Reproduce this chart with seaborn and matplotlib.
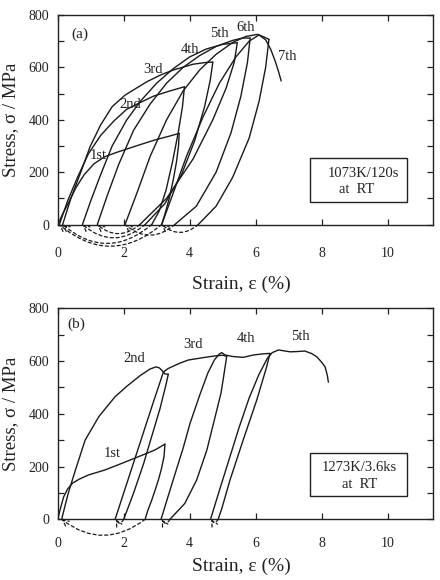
import numpy as np
import pandas as pd
import matplotlib
matplotlib.use("Agg")
import matplotlib.pyplot as plt
import seaborn as sns
from matplotlib.patches import Rectangle

# ---------------- data: panel (a) 1073K/120s ----------------
a_load1_e = [0.0, 0.15, 0.32, 0.55, 0.8, 1.1, 1.43, 1.8, 2.04, 2.5, 2.95, 3.4, 3.68]
a_load1_s = [0, 40, 81, 140, 190, 232, 259, 276, 286, 305, 323, 338, 348]
a_unl1_e = [3.68, 3.66, 3.6, 3.5, 3.38, 3.25, 3.15]
a_unl1_s = [348, 300, 240, 170, 100, 40, 0]

a_load2_e = [0.05, 0.3, 0.6, 0.93, 1.3, 1.7, 2.09, 2.44, 2.9, 3.4, 3.84]
a_load2_s = [0, 90, 180, 270, 340, 395, 440, 462, 490, 510, 526]
a_unl2_e = [3.84, 3.78, 3.65, 3.48, 3.28, 3.07, 2.85]
a_unl2_s = [526, 450, 350, 240, 130, 50, 0]

a_load3_e = [0.15, 0.4, 0.7, 0.98, 1.3, 1.65, 2.04, 2.4, 2.7, 3.1, 3.5, 4.1, 4.5, 4.70]
a_load3_s = [0, 100, 200, 297, 380, 450, 494, 522, 545, 570, 590, 612, 619, 620]
a_unl3_e = [4.70, 4.62, 4.45, 4.15, 3.75, 3.25, 2.65]
a_unl3_s = [620, 550, 450, 320, 190, 80, 0]

a_load4_e = [0.75, 1.0, 1.3, 1.65, 2.09, 2.5, 3.0, 3.5, 4.0, 4.5, 5.0, 5.44]
a_load4_s = [0, 90, 190, 300, 399, 470, 540, 595, 640, 670, 688, 694]
a_unl4_e = [5.44, 5.35, 5.1, 4.7, 4.1, 3.3, 2.49]
a_unl4_s = [694, 620, 520, 400, 250, 100, 0]

a_load5_e = [1.2, 1.5, 1.85, 2.3, 2.8, 3.3, 3.8, 4.3, 4.8, 5.3, 5.6, 5.83]
a_load5_s = [0, 110, 230, 360, 460, 540, 600, 645, 680, 703, 712, 712]
a_unl5_e = [5.83, 5.75, 5.55, 5.25, 4.8, 4.2, 3.55]
a_unl5_s = [712, 620, 490, 350, 200, 70, 0]

a_load6_e = [2.04, 2.4, 2.8, 3.3, 3.8, 4.3, 4.8, 5.3, 5.7, 6.05, 6.25, 6.4]
a_load6_s = [0, 120, 260, 400, 510, 590, 650, 695, 718, 726, 716, 707]
a_unl6_e = [6.4, 6.3, 6.1, 5.8, 5.3, 4.8, 4.26]
a_unl6_s = [707, 600, 470, 330, 180, 70, 0]

a_load7_e = [3.15, 3.5, 3.9, 4.4, 4.9, 5.4, 5.8, 6.1, 6.3, 6.45, 6.6, 6.7, 6.77]
a_load7_s = [0, 120, 260, 410, 540, 640, 700, 724, 705, 670, 620, 580, 548]

a_rec_from = [3.15, 2.85, 2.65, 2.49, 3.55, 4.26]
a_rec_to = [0.05, 0.15, 0.75, 1.2, 2.04, 3.15]

a_labels = ["1st", "2nd", "3rd", "4th", "5th", "6th", "7th"]
a_label_e = [1.23, 2.19, 2.90, 4.01, 4.89, 5.68, 6.96]
a_label_s = [265, 459, 592, 670, 730, 753, 643]

# ---------------- data: panel (b) 1273K/3.6ks ----------------
b_load1_e = [0.0, 0.08, 0.18, 0.3, 0.45, 0.65, 0.93, 1.43, 1.94, 2.44, 2.95, 3.25]
b_load1_s = [0, 40, 85, 115, 137, 152, 168, 187, 212, 237, 263, 285]
b_unl1_e = [3.25, 3.22, 3.14, 3.05, 2.95, 2.85, 2.72, 2.65]
b_unl1_s = [285, 237, 190, 149, 110, 73, 30, 0]

b_load2_e = [0.12, 0.2, 0.32, 0.52, 0.83, 1.25, 1.74, 2.1, 2.5, 2.8, 2.98, 3.08, 3.17, 3.25, 3.35]
b_load2_s = [0, 40, 99, 180, 300, 390, 465, 505, 545, 570, 578, 574, 563, 551, 550]
b_unl2_e = [3.35, 3.28, 3.1, 2.85, 2.6, 2.3, 2.0]
b_unl2_s = [550, 510, 420, 315, 210, 100, 0]

b_load3_e = [1.74, 2.0, 2.3, 2.6, 2.9, 3.1, 3.2, 3.35, 3.7, 3.96, 4.46, 4.8, 5.0, 5.12]
b_load3_s = [0, 100, 215, 330, 445, 520, 558, 572, 592, 604, 614, 620, 622, 618]
b_unl3_e = [5.12, 5.05, 4.95, 4.82, 4.52, 4.21, 3.85, 3.4]
b_unl3_s = [618, 560, 480, 414, 263, 149, 60, 0]

b_load4_e = [3.13, 3.5, 3.8, 4.01, 4.3, 4.55, 4.75, 4.9, 4.97, 5.07, 5.32, 5.62, 5.93, 6.2, 6.43]
b_load4_s = [0, 150, 270, 364, 470, 555, 605, 627, 632, 623, 617, 614, 623, 627, 629]
b_unl4_e = [6.43, 6.33, 6.03, 5.62, 5.22, 4.97, 4.86]
b_unl4_s = [629, 578, 452, 301, 149, 40, 0]

b_load5_e = [4.63, 4.9, 5.2, 5.5, 5.8, 6.1, 6.35, 6.5, 6.69, 7.04, 7.25, 7.49, 7.7, 7.85, 8.0, 8.1, 8.17, 8.2]
b_load5_s = [0, 110, 230, 350, 460, 550, 610, 632, 642, 635, 636, 638, 628, 616, 595, 578, 545, 520]

b_rec_from = [2.65, 2.0, 3.4, 4.86]
b_rec_to = [0.12, 1.76, 3.15, 4.65]

b_labels = ["1st", "2nd", "3rd", "4th", "5th"]
b_label_e = [1.64, 2.31, 4.09, 5.71, 7.34]
b_label_s = [250, 608, 661, 684, 693]

x_ticks = [0, 2, 4, 6, 8, 10]
y_ticks = [0, 200, 400, 600, 800]


def frame(segments):
    rows = []
    for i, (e, s) in enumerate(segments):
        for k, (xe, ys) in enumerate(zip(e, s)):
            rows.append({"strain": xe, "stress": ys, "seg": i, "order": k})
    return pd.DataFrame(rows)


a_df = frame([(a_load1_e, a_load1_s), (a_unl1_e, a_unl1_s),
              (a_load2_e, a_load2_s), (a_unl2_e, a_unl2_s),
              (a_load3_e, a_load3_s), (a_unl3_e, a_unl3_s),
              (a_load4_e, a_load4_s), (a_unl4_e, a_unl4_s),
              (a_load5_e, a_load5_s), (a_unl5_e, a_unl5_s),
              (a_load6_e, a_load6_s), (a_unl6_e, a_unl6_s),
              (a_load7_e, a_load7_s)])
b_df = frame([(b_load1_e, b_load1_s), (b_unl1_e, b_unl1_s),
              (b_load2_e, b_load2_s), (b_unl2_e, b_unl2_s),
              (b_load3_e, b_load3_s), (b_unl3_e, b_unl3_s),
              (b_load4_e, b_load4_s), (b_unl4_e, b_unl4_s),
              (b_load5_e, b_load5_s)])

sns.set_theme(style="ticks")
plt.rcParams["font.family"] = ["Liberation Serif", "DejaVu Serif"]

fig = plt.figure(figsize=(4.4, 5.8), dpi=100)
ax_a = fig.add_axes([57.7 / 440, 1 - 224.5 / 580, (433 - 57.7) / 440, (224.5 - 15) / 580])
ax_b = fig.add_axes([57.7 / 440, 1 - 519.3 / 580, (433 - 57.7) / 440, (519.3 - 308.3) / 580])


def style_axes(ax, xpad, label_y):
    ax.set_xlim(0, 11.37)
    ax.set_ylim(0, 800)
    ax.set_xticks(x_ticks)
    ax.set_yticks(y_ticks)
    ax.set_yticks([100, 300, 500, 700], minor=True)
    for s in ax.spines.values():
        s.set_visible(True)
        s.set_linewidth(1.0)
        s.set_color("#222222")
    ax.tick_params(axis="both", which="both", direction="in", top=True, right=True,
                   length=4.5, width=0.9, color="#222222", labelsize=10, labelcolor="#222222")
    ax.tick_params(axis="x", which="major", pad=xpad)
    ax.tick_params(axis="y", which="major", pad=6)
    ax.set_xlabel("Strain, ε (%)", fontsize=14, color="#222222")
    ax.set_ylabel("Stress, σ / MPa", fontsize=13.5, color="#222222")
    ax.xaxis.set_label_coords(0.49, label_y)
    ax.yaxis.set_label_coords(-0.103, 0.5)
    ax.set_facecolor("white")


def draw_panel(ax, df, rec_from, rec_to, rad_big, labels, le, ls, tag, box_lines, box_cx):
    sns.lineplot(data=df, x="strain", y="stress", units="seg", estimator=None,
                 sort=False, color="#1a1a1a", lw=1.0, ax=ax, legend=False)
    for s0, s1 in zip(rec_from, rec_to):
        span = s0 - s1
        rad = rad_big if span > 0.6 else -0.9
        ax.annotate("", xy=(s1, 0), xytext=(s0, 0), xycoords="data",
                    arrowprops=dict(arrowstyle="->,head_length=0.35,head_width=0.18",
                                    ls=(0, (2.5, 2.2)), lw=0.9, color="#1a1a1a",
                                    connectionstyle=f"arc3,rad={rad}",
                                    shrinkA=0, shrinkB=0),
                    annotation_clip=False)
    for t, x, y in zip(labels, le, ls):
        ax.text(x, y, t, fontsize=10.5, ha="center", va="center", color="#222222")
    ax.text(tag[1], tag[2], tag[0], fontsize=11, ha="center", va="center", color="#222222")
    ax.add_patch(Rectangle((7.63, 87), 2.96, 166, fill=False, lw=1.0, ec="#222222"))
    ax.text(box_cx[0], 196, box_lines[0], fontsize=10.5, ha="center", va="center", color="#222222")
    ax.text(box_cx[1], 132, box_lines[1], fontsize=10.5, ha="center", va="center", color="#222222")


draw_panel(ax_a, a_df, a_rec_from, a_rec_to, -0.42, a_labels, a_label_e, a_label_s,
           ("(a)", 0.68, 726), ("1073K/120s", "at  RT"), (9.25, 9.05))
draw_panel(ax_b, b_df, b_rec_from, b_rec_to, -0.38, b_labels, b_label_e, b_label_s,
           ("(b)", 0.56, 739), ("1273K/3.6ks", "at  RT"), (9.14, 9.14))

style_axes(ax_a, 16, -0.245)
style_axes(ax_b, 13, -0.183)

fig.savefig("out.png", dpi=100, facecolor="white")
